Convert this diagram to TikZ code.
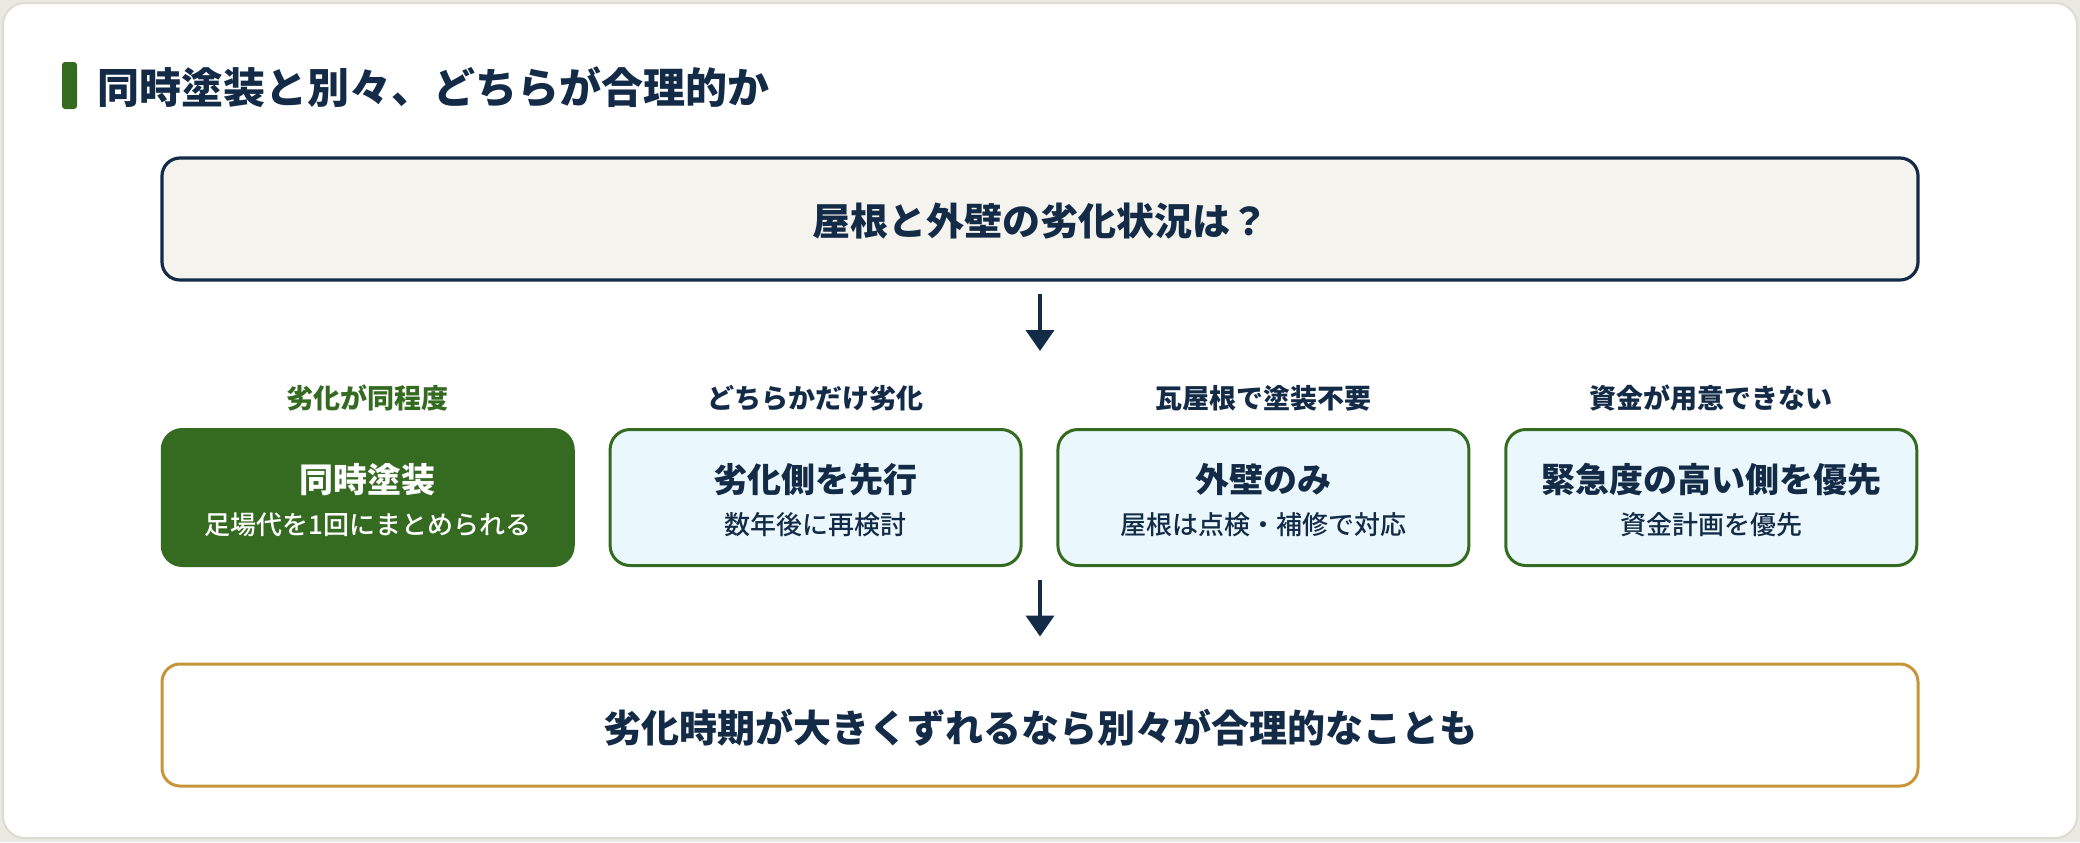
\documentclass[tikz,border=0pt]{standalone}
\usepackage{fontspec}
\setmainfont{Noto Sans CJK JP}
\IfFontExistsTF{Noto Sans CJK JP Medium}{\newfontfamily\subfont{Noto Sans CJK JP Medium}}{\newfontfamily\subfont{Noto Sans CJK JP}}
\usetikzlibrary{arrows.meta}
\definecolor{navy}{HTML}{132B47}
\definecolor{leaf}{HTML}{356A21}
\definecolor{gold}{HTML}{C8963A}
\definecolor{skyfill}{HTML}{EAF8FD}
\definecolor{beige}{HTML}{F5F3EE}
\definecolor{outerbg}{HTML}{E9E8E1}
\definecolor{cardline}{HTML}{DEDCD0}
\tikzset{
  wide/.style={draw, rounded corners=9pt, minimum width=878pt, minimum height=61pt, line width=1.6pt, inner sep=0pt},
  optbox/.style={draw=leaf, fill=skyfill, rounded corners=10pt, minimum width=205.5pt, minimum height=68pt, line width=1.5pt, inner sep=0pt},
  optgreen/.style={optbox, fill=leaf},
  maintxt/.style={font=\bfseries\fontsize{17}{20}\selectfont, text=navy, inner sep=0pt},
  subtxt/.style={font=\subfont\fontsize{13}{15}\selectfont, text=navy, inner sep=0pt},
  cattxt/.style={font=\bfseries\fontsize{13.5}{16}\selectfont, text=navy, inner sep=0pt},
  bigtxt/.style={font=\bfseries\fontsize{19}{22}\selectfont, text=navy, inner sep=0pt},
  arr/.style={draw=navy, line width=2pt, -{Triangle[width=14pt,length=10.5pt]}},
}
\begin{document}
\begin{tikzpicture}[x=0.5pt, y=-0.5pt]
\fill[outerbg] (0,0) rectangle (2080,842);
\useasboundingbox (0,0) rectangle (2080,842);
\draw[cardline, fill=white, line width=1pt, rounded corners=11pt] (3,3) rectangle (2077,838);
% title
\fill[leaf, rounded corners=1.5pt] (62,62) rectangle (77,109);
\node[anchor=west, font=\bfseries\fontsize{21}{24}\selectfont, text=navy, inner sep=0pt] (title) at (97,87) {同時塗装と別々、どちらが合理的か};
% top question
\node[wide, draw=navy, fill=beige] (top) at (1040,219) {};
\node[bigtxt] (q) at (1040,221) {屋根と外壁の劣化状況は？};
% arrow 1
\coordinate (a1e) at (1040,351);
\draw[arr, shorten <=6pt] (top.south) -- (a1e);
% option boxes
\node[optgreen] (b1) at (367.75,497.5) {};
\node[optbox] (b2) at (815.6,497.5) {};
\node[optbox] (b3) at (1263.4,497.5) {};
\node[optbox] (b4) at (1711.25,497.5) {};
% category labels
\node[cattxt, text=leaf] (c1) at (367.75,398) {劣化が同程度};
\node[cattxt] (c2) at (815.6,398) {どちらかだけ劣化};
\node[cattxt] (c3) at (1263.4,398) {瓦屋根で塗装不要};
\node[cattxt] (c4) at (1711.25,398) {資金が用意できない};
% box texts
\node[maintxt, text=white] (m1) at (367.75,480) {同時塗装};
\node[subtxt, text=white] (s1) at (367.75,525) {足場代を1回にまとめられる};
\node[maintxt] (m2) at (815.6,480) {劣化側を先行};
\node[subtxt] (s2) at (815.6,525) {数年後に再検討};
\node[maintxt] (m3) at (1263.4,480) {外壁のみ};
\node[subtxt] (s3) at (1263.4,525) {屋根は点検・補修で対応};
\node[maintxt] (m4) at (1711.25,480) {緊急度の高い側を優先};
\node[subtxt] (s4) at (1711.25,525) {資金計画を優先};
% arrow 2
\coordinate (a2s) at (1040,580);
\node[wide, draw=gold, fill=white, line width=1.5pt] (bot) at (1040,725) {};
\node[bigtxt] (conc) at (1040,728) {劣化時期が大きくずれるなら別々が合理的なことも};
\draw[arr, shorten >=13pt] (a2s) -- (bot.north);
\end{tikzpicture}
\end{document}
